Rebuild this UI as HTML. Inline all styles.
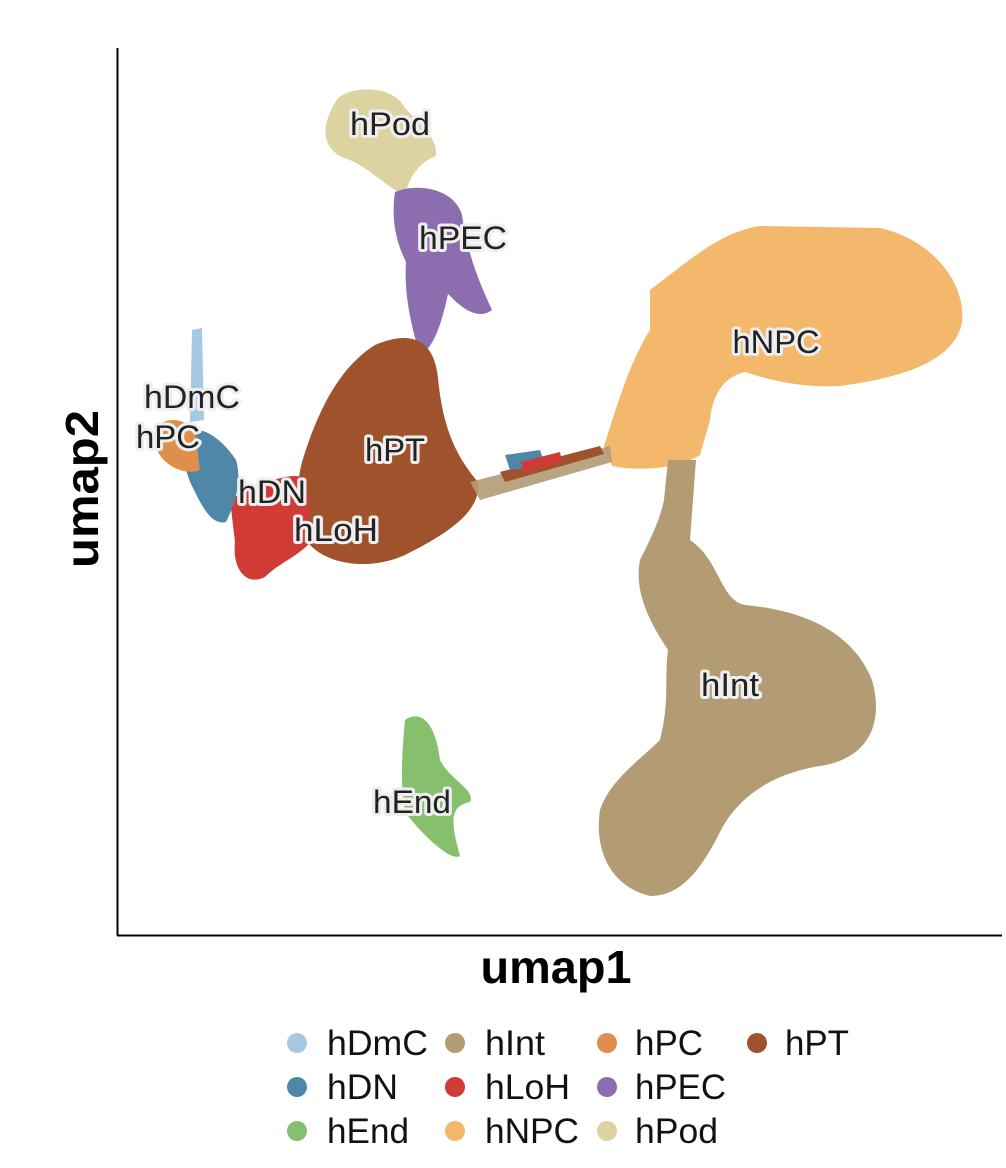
<!DOCTYPE html>
<html><head><meta charset="utf-8"><style>
html,body{margin:0;padding:0;background:#fff;}
svg{display:block;font-family:"Liberation Sans",Arial,sans-serif;}
.lab{font-size:32px;fill:#222;stroke:#eeeeee;stroke-width:6px;paint-order:stroke;stroke-linejoin:round;text-anchor:middle;}
.leg{font-size:35px;fill:#111;}
</style></head><body>
<svg width="1006" height="1168" viewBox="0 0 1006 1168">
<path fill="#dcd3a0" d="M338,98 C352,86 392,84 405,108 C420,125 438,138 436,156 C420,162 410,175 405,195 C390,190 372,170 350,160 C322,152 318,128 338,98 Z"/>
<path fill="#8b6db0" d="M395,192 C420,182 455,190 462,215 C468,258 482,288 492,310 C476,322 458,304 448,294 C442,322 434,348 420,355 C410,322 404,292 406,262 C393,236 392,212 395,192 Z"/>
<path fill="#f4b86c" d="M650,290 C690,260 720,232 760,226 L880,228 C932,240 966,282 962,322 C955,362 900,378 840,386 C800,388 770,380 745,372 C720,378 712,400 710,420 L700,455 C680,468 640,472 612,466 L604,446 C618,402 630,362 650,330 Z"/>
<path fill="#b39b74" d="M668,460 L696,460 L690,540 C720,560 720,600 745,605 C800,610 852,630 872,680 C886,730 862,760 820,766 C780,772 740,792 720,832 C700,872 680,896 650,896 C610,886 594,850 600,810 C610,780 640,760 660,740 C670,700 664,680 668,650 C648,620 634,590 640,560 C650,540 660,520 664,500 Z"/>
<path fill="#a0522d" d="M302,462 C315,420 335,370 375,345 C410,330 434,338 438,378 C442,420 452,452 478,482 C482,512 445,535 405,555 C372,570 330,566 310,545 C295,515 296,485 302,462 Z"/>
<path fill="#b39b74" d="M470,482 L610,446 L612,462 L480,500 Z" opacity="0.9"/>
<path fill="#a0522d" d="M500,472 L600,446 L604,454 L505,482 Z"/>
<path fill="#4e87a8" d="M505,455 L540,450 L545,465 L510,470 Z"/>
<path fill="#d13b35" d="M520,462 L560,452 L562,462 L525,472 Z"/>
<path fill="#d13b35" d="M230,500 C260,480 300,470 306,480 L312,540 C300,556 280,562 265,577 C245,587 232,567 235,542 Z"/>
<path fill="#4e87a8" d="M176,440 C190,420 216,430 236,460 C242,480 236,502 226,522 C210,526 200,502 190,482 Z"/>
<path fill="#e08e4b" d="M155,432 C160,416 185,416 195,432 L200,470 C185,476 165,466 158,452 Z"/>
<path fill="#a6c8e0" d="M192,330 L202,328 L204,420 L190,422 Z"/>
<path fill="#86c06c" d="M405,720 C420,710 435,720 440,760 C450,780 476,790 470,802 C450,806 450,820 460,856 C450,862 420,832 405,812 C400,782 402,752 405,720 Z"/>
<line x1="117.5" y1="48" x2="117.5" y2="935.5" stroke="#000" stroke-width="2"/>
<line x1="117" y1="935.5" x2="1002" y2="935.5" stroke="#000" stroke-width="2"/>
<g class="lab">
<text x="390" y="135" textLength="80" lengthAdjust="spacingAndGlyphs">hPod</text>
<text x="463" y="249" textLength="88" lengthAdjust="spacingAndGlyphs">hPEC</text>
<text x="776" y="353" textLength="87" lengthAdjust="spacingAndGlyphs">hNPC</text>
<text x="192" y="408" textLength="96" lengthAdjust="spacingAndGlyphs">hDmC</text>
<text x="168" y="448" textLength="64" lengthAdjust="spacingAndGlyphs">hPC</text>
<text x="395" y="461" textLength="60" lengthAdjust="spacingAndGlyphs">hPT</text>
<text x="272" y="503" textLength="68" lengthAdjust="spacingAndGlyphs">hDN</text>
<text x="336" y="541" textLength="84" lengthAdjust="spacingAndGlyphs">hLoH</text>
<text x="730" y="696" textLength="58" lengthAdjust="spacingAndGlyphs">hInt</text>
<text x="412" y="813" textLength="78" lengthAdjust="spacingAndGlyphs">hEnd</text>
</g>
<text x="556" y="983" font-size="46" font-weight="bold" text-anchor="middle" textLength="151" lengthAdjust="spacingAndGlyphs">umap1</text>
<text transform="translate(98,489) rotate(-90)" font-size="46" font-weight="bold" text-anchor="middle" textLength="158" lengthAdjust="spacingAndGlyphs">umap2</text>
<g class="leg">
<circle cx="297" cy="1043" r="10" fill="#a6c8e0"/><text x="327" y="1055" textLength="101" lengthAdjust="spacingAndGlyphs">hDmC</text>
<circle cx="297" cy="1087" r="10" fill="#4e87a8"/><text x="327" y="1099" textLength="71" lengthAdjust="spacingAndGlyphs">hDN</text>
<circle cx="297" cy="1131" r="10" fill="#86c06c"/><text x="327" y="1143" textLength="82" lengthAdjust="spacingAndGlyphs">hEnd</text>
<circle cx="455" cy="1043" r="10" fill="#b39b74"/><text x="485" y="1055" textLength="60" lengthAdjust="spacingAndGlyphs">hInt</text>
<circle cx="455" cy="1087" r="10" fill="#d13b35"/><text x="485" y="1099" textLength="85" lengthAdjust="spacingAndGlyphs">hLoH</text>
<circle cx="455" cy="1131" r="10" fill="#f4b86c"/><text x="485" y="1143" textLength="94" lengthAdjust="spacingAndGlyphs">hNPC</text>
<circle cx="607" cy="1043" r="10" fill="#e08e4b"/><text x="635" y="1055" textLength="68" lengthAdjust="spacingAndGlyphs">hPC</text>
<circle cx="607" cy="1087" r="10" fill="#8b6db0"/><text x="635" y="1099" textLength="91" lengthAdjust="spacingAndGlyphs">hPEC</text>
<circle cx="607" cy="1131" r="10" fill="#dcd3a0"/><text x="635" y="1143" textLength="83" lengthAdjust="spacingAndGlyphs">hPod</text>
<circle cx="757" cy="1043" r="10" fill="#a0522d"/><text x="785" y="1055" textLength="64" lengthAdjust="spacingAndGlyphs">hPT</text>
</g>
</svg>
</body></html>
